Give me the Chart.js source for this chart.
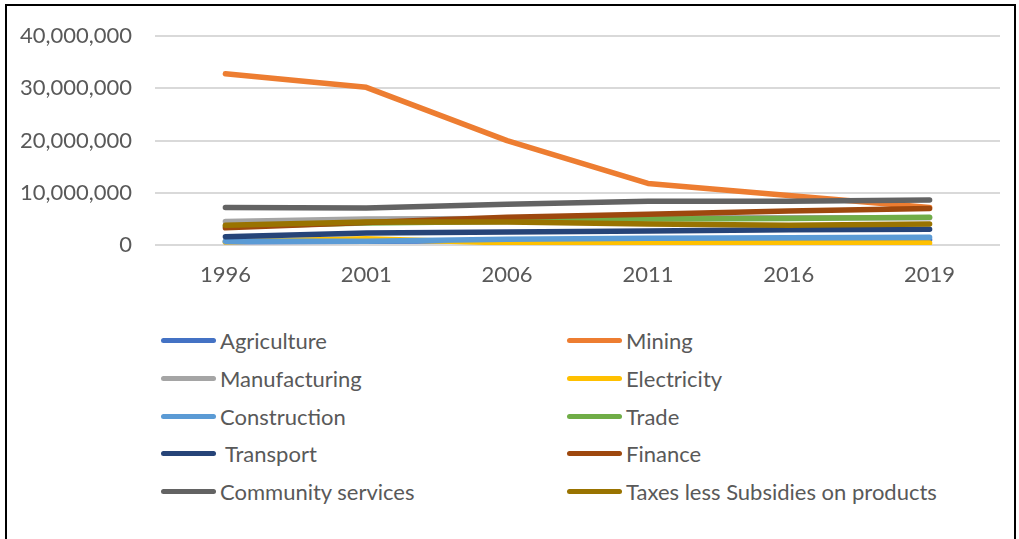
<!DOCTYPE html>
<html>
<head>
<meta charset="utf-8">
<script src="https://cdn.jsdelivr.net/npm/chart.js@4.4.1/dist/chart.umd.min.js"></script>
<style>
  html, body { margin:0; padding:0; background:#fff; }
  body { width:1019px; height:539px; overflow:hidden; position:relative; font-family:Lato, sans-serif; }
  .frame { position:absolute; left:5px; top:4px; width:1011px; height:600px; border:2px solid #000; box-sizing:border-box; }
  .wrap { position:absolute; left:0; top:0; width:1019px; height:300px; }
  .legend { position:absolute; left:0; top:0; }
  .item { position:absolute; display:flex; align-items:center; font-size:22px; color:#595959; white-space:pre; }
  .item .sw { width:55px; height:5px; border-radius:3px; margin-right:4px; }
</style>
</head>
<body>
<div class="frame"></div>
<div class="wrap"><canvas id="c"></canvas></div>
<div class="legend" id="legend"></div>
<script>
const years = ['1996','2001','2006','2011','2016','2019'];
const yTicks = [0, 10000000, 20000000, 30000000, 40000000];

const agriculture   = [600000, 700000, 800000, 900000, 1000000, 1000000];
const mining        = [32800000, 30200000, 20000000, 11800000, 9500000, 7200000];
const manufacturing = [4500000, 5000000, 5100000, 5200000, 5200000, 5200000];
const electricity   = [600000, 1200000, 400000, 400000, 400000, 400000];
const construction  = [700000, 700000, 1100000, 1300000, 1400000, 1500000];
const trade         = [3600000, 4200000, 4500000, 5000000, 5100000, 5300000];
const transport     = [1600000, 2300000, 2500000, 2700000, 2900000, 3000000];
const finance       = [3300000, 4300000, 5300000, 5900000, 6500000, 7000000];
const community     = [7200000, 7100000, 7800000, 8400000, 8400000, 8600000];
const taxes         = [3800000, 4400000, 4400000, 4000000, 3800000, 4000000];

const names = ['Agriculture','Mining','Manufacturing','Electricity','Construction','Trade',' Transport','Finance','Community services','Taxes less Subsidies on products'];
const series = [agriculture, mining, manufacturing, electricity, construction, trade, transport, finance, community, taxes];
const colors = ['#4472C4','#ED7D31','#A5A5A5','#FFC000','#5B9BD5','#70AD47','#264478','#9E480E','#636363','#997300'];

const fmt = v => new Intl.NumberFormat('en-US').format(v);

new Chart(document.getElementById('c'), {
  type: 'line',
  data: {
    labels: years,
    datasets: series.map((d, i) => ({
      label: names[i],
      data: d,
      borderColor: colors[i],
      backgroundColor: colors[i],
      borderWidth: 5.5,
      borderCapStyle: 'round',
      borderJoinStyle: 'round',
      pointRadius: 0,
      tension: 0,
      order: series.length - i
    }))
  },
  options: {
    responsive: true,
    maintainAspectRatio: false,
    animation: false,
    layout: { padding: { left: 0, right: 19, top: 25, bottom: 0 } },
    plugins: { legend: { display: false }, tooltip: { enabled: false } },
    scales: {
      x: {
        offset: true,
        grid: { display: false, drawTicks: false },
        border: { display: false },
        ticks: { color: '#595959', font: { family: 'Lato', size: 22 }, padding: 17, maxRotation: 0 },
        afterFit: s => { s.height = 55; }
      },
      y: {
        min: 0, max: 40000000,
        afterBuildTicks: s => { s.ticks = yTicks.map(v => ({ value: v })); },
        grid: { color: '#D9D9D9', lineWidth: 2, drawTicks: false },
        border: { display: false },
        ticks: { color: '#595959', font: { family: 'Lato', size: 22 }, padding: 23, callback: v => fmt(v) },
        afterFit: s => { s.width = 155; }
      }
    }
  }
});

const legend = document.getElementById('legend');
legend.innerHTML = names.map((n, i) => {
  const col = i % 2, row = Math.floor(i / 2);
  const left = col === 0 ? 161 : 567;
  const top = 341 + row * 37.8 - 14;
  return `<div class="item" style="left:${left}px;top:${top}px"><span class="sw" style="background:${colors[i]}"></span>${n}</div>`;
}).join('');
</script>
</body>
</html>
